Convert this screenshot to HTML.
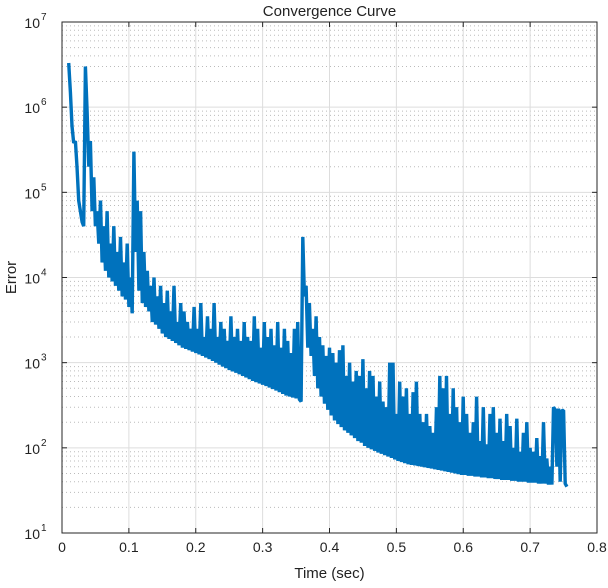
<!DOCTYPE html>
<html><head><meta charset="utf-8"><style>
body{margin:0;background:#fff;}
svg text{font-family:"Liberation Sans","Noto Sans CJK JP",sans-serif;fill:#222;}
</style></head><body>
<svg id="c" width="608" height="583" xmlns="http://www.w3.org/2000/svg"></svg>
<script>
const xTicks=[0,0.1,0.2,0.3,0.4,0.5,0.6,0.7,0.8];
const xTickLabels=["0","0.1","0.2","0.3","0.4","0.5","0.6","0.7","0.8"];
const yDecades=[1,2,3,4,5,6,7];
const t0=0.01, dt=0.0025;
const errorValues=[
3300000,1500000,600000,380000,400000,200000,80000,60000,45000,40000,
3000000,900000,200000,400000,60000,150000,40000,60000,25000,80000,
15000,40000,12000,60000,10000,25000,9000,40000,8000,20000,
7000,30000,6000,15000,5500,25000,4500,10000,3800,300000,
20000,80000,7000,60000,5000,20000,4500,12000,4000,8000,
3000,10000,2800,6000,2500,8000,2200,5000,2000,7000,
1900,4000,1800,8000,1700,3000,1600,5000,1500,4000,
1450,3000,1400,2500,1350,4500,1300,2500,1250,5000,
1200,2000,1150,3500,1100,2500,1050,5000,1000,2000,
950,3000,900,2500,860,1800,820,3500,790,2000,
760,2500,730,1800,700,3000,670,2000,640,1800,
610,3500,590,2500,570,1500,550,3000,530,2000,
510,2500,490,1600,470,3000,450,1500,430,2500,
410,1800,400,1300,390,2500,380,3000,370,350,
30000,6000,8000,1500,5000,1200,2500,700,3500,500,
2000,400,1600,330,1200,280,1500,240,1300,210,
1000,190,1400,175,1600,160,700,150,1000,140,
600,130,800,120,700,115,1100,105,500,100,
800,96,700,92,400,88,600,85,350,82,
300,79,1000,76,1000,73,250,70,600,68,
400,66,500,64,250,63,450,62,600,61,
250,60,200,59,250,58,180,57,150,56,
300,55,700,54,500,53,700,52,250,51,
500,50,300,49,200,48,400,48,250,47,
150,47,200,46,400,46,120,45,300,45,
110,44,250,44,300,43,150,43,220,42,
120,42,250,42,180,41,100,41,220,40,
90,40,150,40,200,39,100,39,90,39,
130,38,80,38,200,38,75,37,60,37,
300,280,60,290,40,280,270,38,35];
const NS="http://www.w3.org/2000/svg";
const svg=document.getElementById('c');
const L=62,R=597,T=22,B=533;
const xs=v=>L+(v-0)/(0.8)*(R-L);
const ys=v=>B-(Math.log10(v)-1)/6*(B-T);
function mk(tag,attrs,parent){const e=document.createElementNS(NS,tag);for(const k in attrs)e.setAttribute(k,attrs[k]);(parent||svg).appendChild(e);return e;}
const bg=mk('rect',{x:L,y:T,width:R-L,height:B-T,fill:'#fff'});


const grid=mk('g',{});


for(let d=1;d<7;d++){for(let m=2;m<=9;m++){const y=ys(m*Math.pow(10,d));mk('line',{x1:L,x2:R,y1:y,y2:y,stroke:'#bbb','stroke-width':1,'stroke-dasharray':'1,3'},grid);}}
for(const v of xTicks){const x=xs(v);mk('line',{x1:x,x2:x,y1:T,y2:B,stroke:'#ddd','stroke-width':1},grid);}
for(const d of yDecades){const y=ys(Math.pow(10,d));mk('line',{x1:L,x2:R,y1:y,y2:y,stroke:'#ddd','stroke-width':1},grid);}
let pts=errorValues.map((v,i)=>xs(t0+i*dt).toFixed(1)+','+ys(v).toFixed(1)).join(' ');
const line=mk('polyline',{points:pts,fill:'none',stroke:'#0072BD','stroke-width':3.4,'stroke-linejoin':'miter','stroke-miterlimit':2});


const box=mk('rect',{x:L,y:T,width:R-L,height:B-T,fill:'none',stroke:'#262626','stroke-width':1});


xTicks.forEach((v,i)=>{const x=xs(v);
mk('line',{x1:x,x2:x,y1:B,y2:B-5,stroke:'#262626'});mk('line',{x1:x,x2:x,y1:T,y2:T+5,stroke:'#262626'});
const t=mk('text',{x:x,y:B+19,'text-anchor':'middle','font-size':14});t.textContent=xTickLabels[i];

});
yDecades.forEach(d=>{const y=ys(Math.pow(10,d));
mk('line',{x1:L,x2:L+5,y1:y,y2:y,stroke:'#262626'});mk('line',{x1:R,x2:R-5,y1:y,y2:y,stroke:'#262626'});
const t=mk('text',{x:L-22,y:y+6,'text-anchor':'end','font-size':14});t.textContent='10';


const s=mk('text',{x:L-21,y:y-2,'text-anchor':'start','font-size':10});s.textContent=String(d);

});
const title=mk('text',{x:(L+R)/2,y:16,'text-anchor':'middle','font-size':15});title.textContent='Convergence Curve';


const xl=mk('text',{x:(L+R)/2,y:578,'text-anchor':'middle','font-size':15});xl.textContent='Time (sec)';


const yl=mk('text',{x:0,y:0,'text-anchor':'middle','font-size':15,transform:'translate(16,'+((T+B)/2)+') rotate(-90)'});yl.textContent='Error';


</script>
</body></html>
